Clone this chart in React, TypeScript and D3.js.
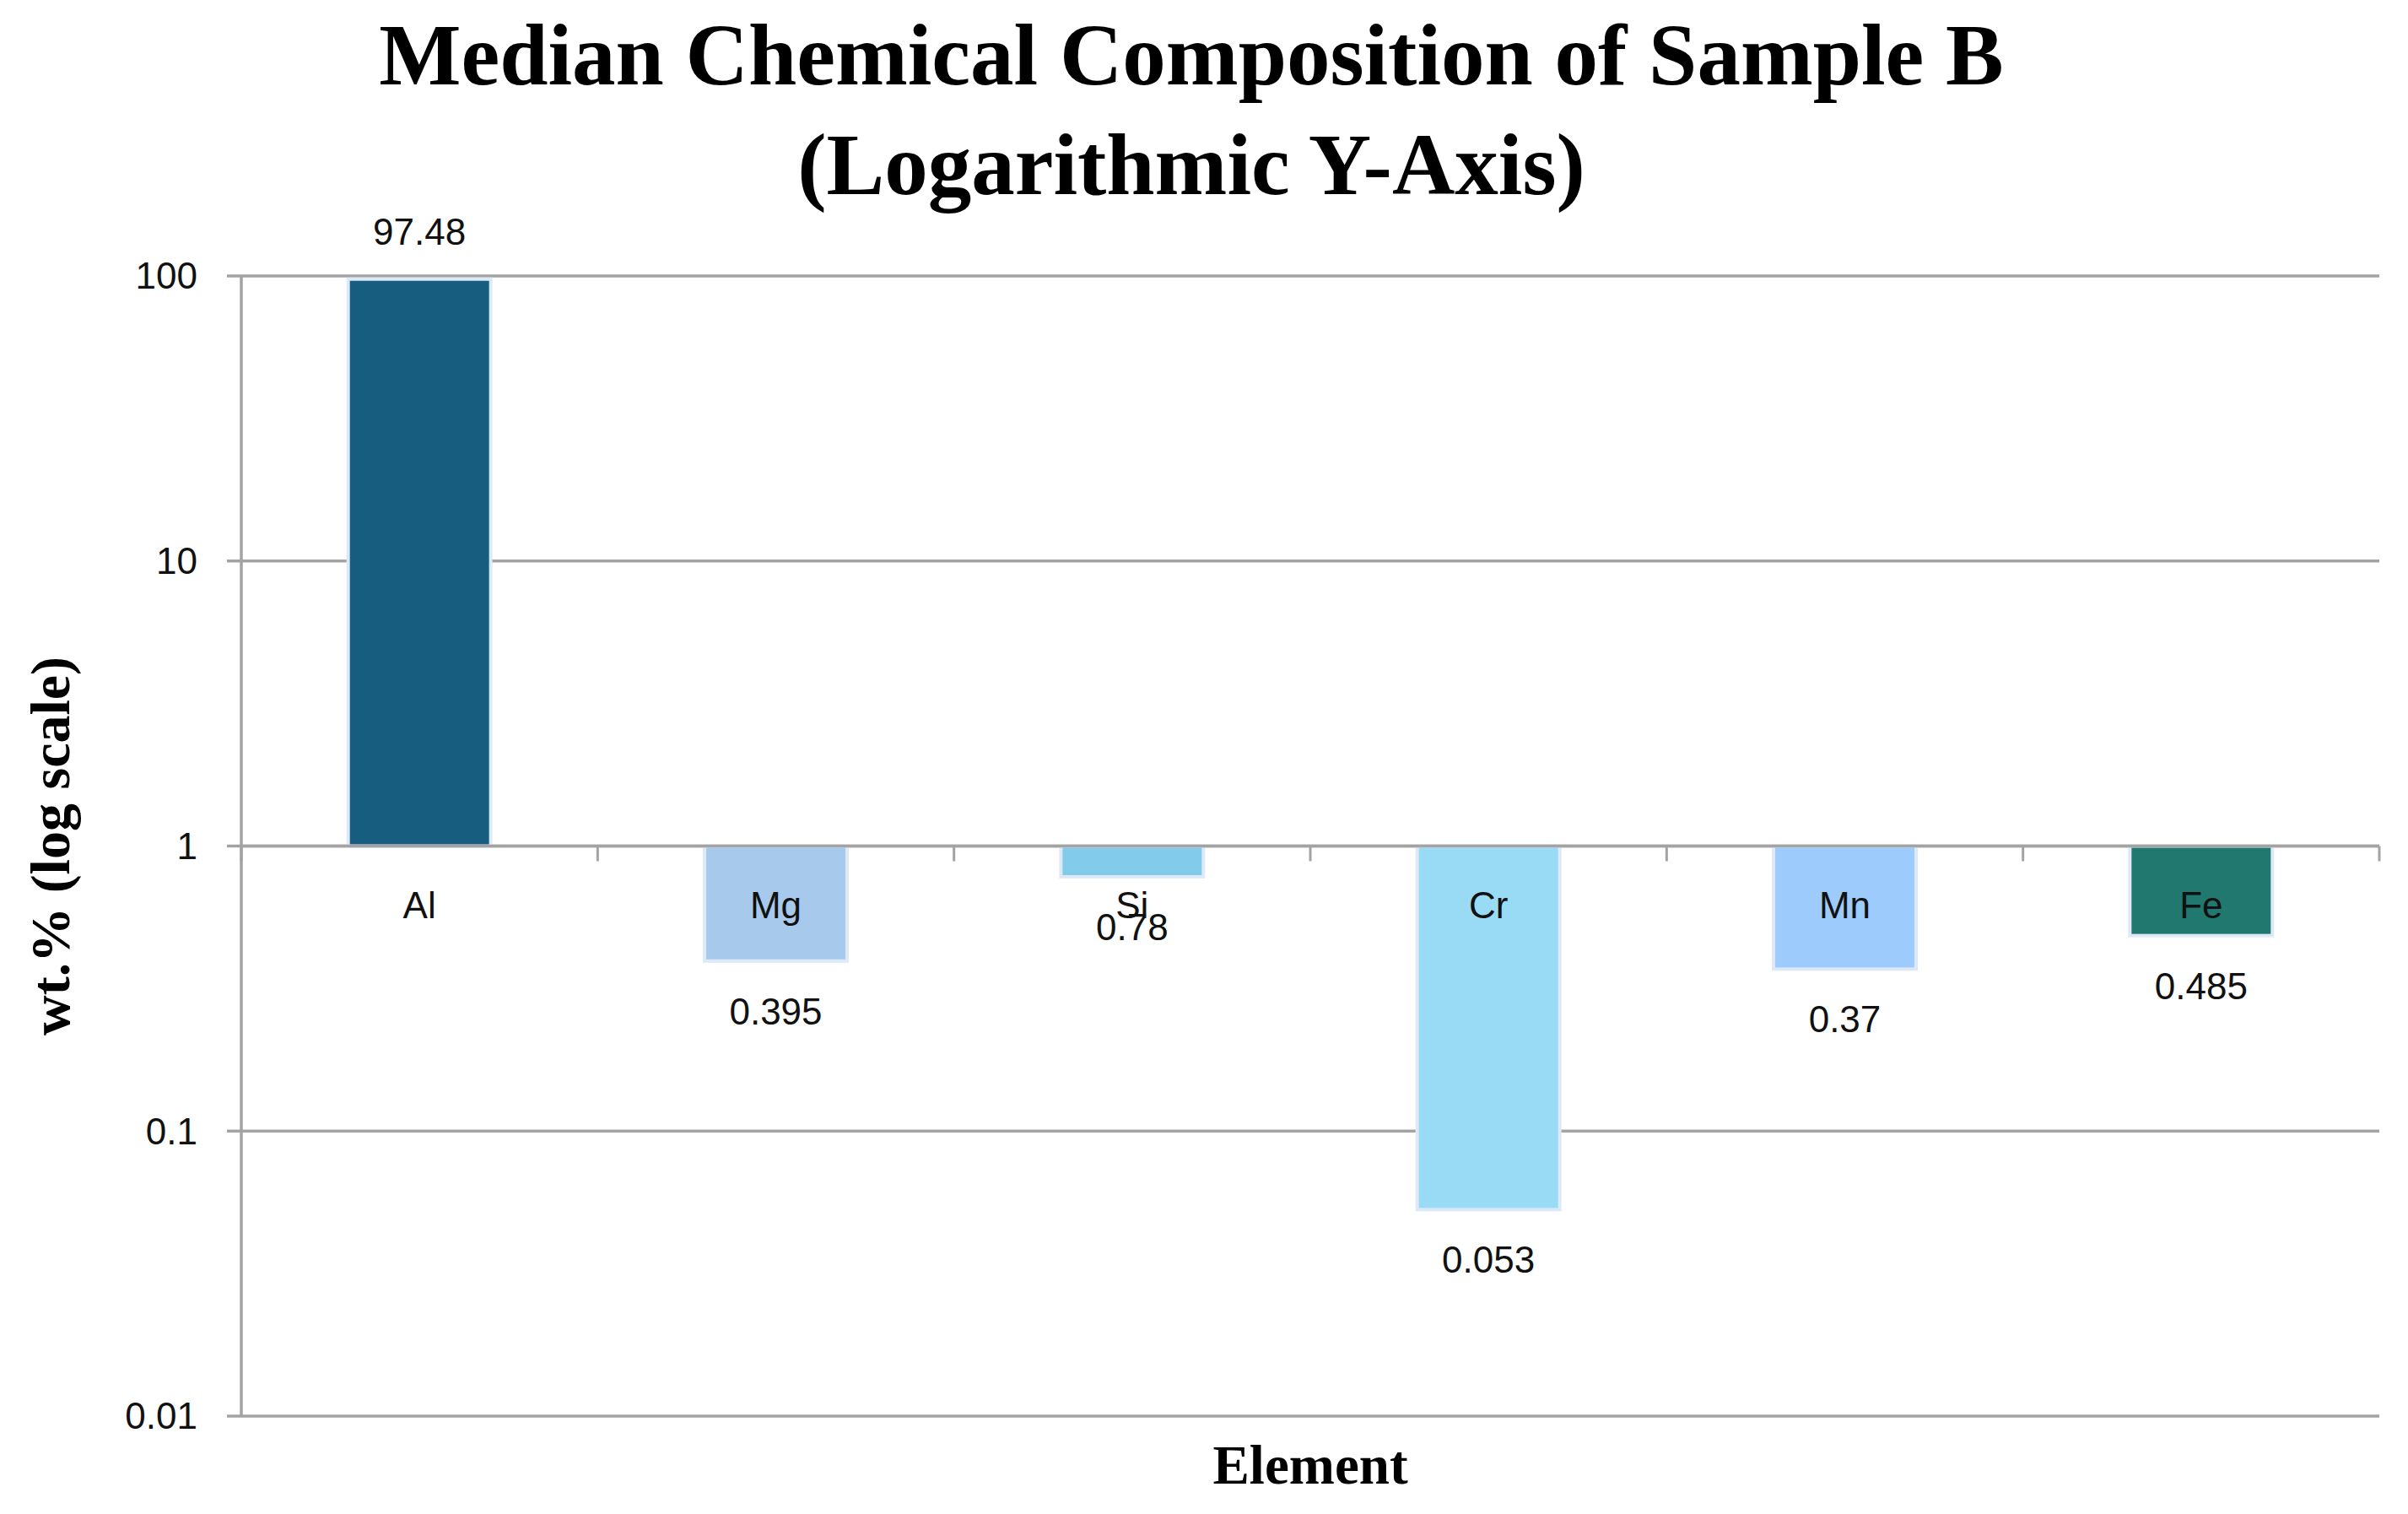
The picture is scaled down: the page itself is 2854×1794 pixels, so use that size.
import { useEffect, useRef } from "react";
import * as d3 from "d3";

const elements = ["Al", "Mg", "Si", "Cr", "Mn", "Fe"];
const medianWt = [97.48, 0.395, 0.78, 0.053, 0.37, 0.485];
const valueLabels = ["97.48", "0.395", "0.78", "0.053", "0.37", "0.485"];
const barColors = ["#175d7f", "#a7c9ec", "#82cbeb", "#99dbf5", "#9ccbfc", "#20786e"];
const yTicks = [0.01, 0.1, 1, 10, 100];
const yTickLabels = ["0.01", "0.1", "1", "10", "100"];

const W = 2854;
const H = 1794;

const App = () => {
  const ref = useRef<SVGSVGElement | null>(null);

  useEffect(() => {
    if (!ref.current) return;
    const svg = d3.select(ref.current);
    svg.selectAll("*").remove();

    const left = 286;
    const right = 2820;
    const top = 327;
    const bottom = 1678;
    const sans = "'Liberation Sans', Arial, sans-serif";
    const serif = "'Liberation Serif', 'Times New Roman', serif";
    const grid = "#a3a3a3";

    const x = d3.scaleBand<string>().domain(elements).range([left, right]).paddingInner(0.6).paddingOuter(0.3);
    const y = d3.scaleLog().domain([0.01, 100]).range([bottom, top]);
    const step = x.step();

    // gridlines
    svg.append("g")
      .selectAll("line")
      .data(yTicks)
      .enter()
      .append("line")
      .attr("x1", left - 17)
      .attr("x2", right)
      .attr("y1", d => y(d))
      .attr("y2", d => y(d))
      .attr("stroke", grid)
      .attr("stroke-width", 3.5);

    // y axis line
    svg.append("line")
      .attr("x1", left).attr("x2", left)
      .attr("y1", top).attr("y2", bottom)
      .attr("stroke", grid).attr("stroke-width", 3.5);

    // bars (from 1, Excel-style crossing)
    svg.append("g")
      .selectAll("rect")
      .data(elements)
      .enter()
      .append("rect")
      .attr("x", d => x(d)!)
      .attr("width", x.bandwidth())
      .attr("y", (d, i) => Math.min(y(medianWt[i]), y(1)))
      .attr("height", (d, i) => Math.abs(y(medianWt[i]) - y(1)))
      .attr("fill", (d, i) => barColors[i])
      .attr("stroke", "#dde9f6")
      .attr("stroke-width", 4);

    // category axis at 1
    svg.append("line")
      .attr("x1", left).attr("x2", right)
      .attr("y1", y(1)).attr("y2", y(1))
      .attr("stroke", grid).attr("stroke-width", 3.5);

    svg.append("g")
      .selectAll("line")
      .data(d3.range(elements.length + 1))
      .enter()
      .append("line")
      .attr("x1", i => left + i * step)
      .attr("x2", i => left + i * step)
      .attr("y1", y(1))
      .attr("y2", y(1) + 18)
      .attr("stroke", grid)
      .attr("stroke-width", 3);

    // category labels
    svg.append("g")
      .selectAll("text")
      .data(elements)
      .enter()
      .append("text")
      .attr("x", d => x(d)! + x.bandwidth() / 2)
      .attr("y", y(1) + 85)
      .attr("text-anchor", "middle")
      .attr("font-family", sans)
      .attr("font-size", 44)
      .attr("fill", "#111")
      .text(d => d);

    // value labels
    svg.append("g")
      .selectAll("text")
      .data(elements)
      .enter()
      .append("text")
      .attr("x", d => x(d)! + x.bandwidth() / 2)
      .attr("y", (d, i) => (medianWt[i] >= 1 ? y(medianWt[i]) - 41 : y(medianWt[i]) + 75))
      .attr("text-anchor", "middle")
      .attr("font-family", sans)
      .attr("font-size", 44)
      .attr("fill", "#111")
      .text((d, i) => valueLabels[i]);

    // y tick labels
    svg.append("g")
      .selectAll("text")
      .data(yTicks)
      .enter()
      .append("text")
      .attr("x", left - 52)
      .attr("y", d => y(d))
      .attr("dy", "0.35em")
      .attr("text-anchor", "end")
      .attr("font-family", sans)
      .attr("font-size", 44)
      .attr("fill", "#111")
      .text((d, i) => yTickLabels[i]);

    // titles
    const title = svg.append("text")
      .attr("x", 1412)
      .attr("text-anchor", "middle")
      .attr("font-family", serif)
      .attr("font-weight", "bold")
      .attr("font-size", 103)
      .attr("fill", "#000");
    title.append("tspan").attr("x", 1412).attr("y", 100).text("Median Chemical Composition of Sample B");
    title.append("tspan").attr("x", 1412).attr("y", 230).text("(Logarithmic Y-Axis)");

    svg.append("text")
      .attr("x", (left + right) / 2)
      .attr("y", 1758)
      .attr("text-anchor", "middle")
      .attr("font-family", serif)
      .attr("font-weight", "bold")
      .attr("font-size", 65)
      .attr("fill", "#000")
      .text("Element");

    svg.append("text")
      .attr("transform", `translate(82, ${(top + bottom) / 2}) rotate(-90)`)
      .attr("text-anchor", "middle")
      .attr("font-family", serif)
      .attr("font-weight", "bold")
      .attr("font-size", 66)
      .attr("fill", "#000")
      .text("wt.% (log scale)");
  }, []);

  return (
    <svg
      ref={ref}
      width={W}
      height={H}
      viewBox={`0 0 ${W} ${H}`}
      style={{ position: "absolute", left: 0, top: 0, background: "#fff" }}
    />
  );
};

export default App;
